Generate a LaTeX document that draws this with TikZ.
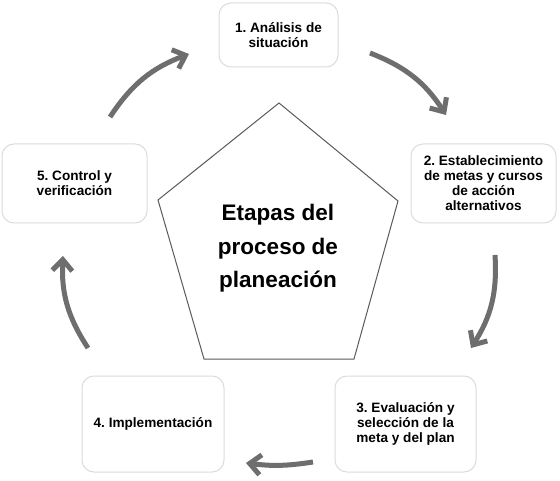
\documentclass[tikz,border=0pt]{standalone}
\usepackage{fontspec}
\setmainfont{Liberation Sans}
\usetikzlibrary{arrows.meta}
\definecolor{boxline}{HTML}{DCDCDC}
\definecolor{arrowgray}{HTML}{6E6E6E}
\definecolor{pentline}{HTML}{5A5A5A}
\frenchspacing
\begin{document}
\begin{tikzpicture}[x=1pt,y=1pt,
  stagebox/.style={draw=boxline, line width=1pt, rounded corners=12pt, fill=white,
    align=center, inner sep=3pt, font=\fontsize{13.6}{15}\selectfont\bfseries},
  cyclearrow/.style={draw=arrowgray, line width=5pt,
    -{Straight Barb[length=11pt,width=20pt]}},
  title/.style={align=center, font=\fontsize{22.5}{33.5}\selectfont\bfseries, inner sep=0pt}
]
\useasboundingbox (0,0) rectangle (560,480);
\fill[white] (0,0) rectangle (560,480);

% pentagon
\coordinate (pt) at (279,377);
\coordinate (pr) at (398,279);
\coordinate (pbr) at (354,121);
\coordinate (pbl) at (204,121);
\coordinate (pl) at (158,280);
\draw[pentline, line width=1pt, line join=miter] (pt) -- (pr) -- (pbr) -- (pbl) -- (pl) -- cycle;
\node[title, anchor=base] (ttl) at (278,192) {Etapas del\\proceso de\\planeación};

% boxes
\node[stagebox, minimum width=119pt, minimum height=64pt] (b1) at (278.5,445) {1. Análisis de\\situación};
\node[stagebox, minimum width=145pt, minimum height=79pt] (b2) at (483.5,296.5) {2. Establecimiento\\de metas y cursos\\de acción\\alternativos};
\node[stagebox, minimum width=141pt, minimum height=96pt] (b3) at (405.5,56) {3. Evaluación y\\selección de la\\meta y del plan};
\node[stagebox, minimum width=142pt, minimum height=96pt] (b4) at (153,56) {4. Implementación};
\node[stagebox, minimum width=145pt, minimum height=79pt] (b5) at (74.5,296.5) {5. Control y\\verificación};

% arrow end points
\coordinate (a12s) at (370,427);
\coordinate (a12e) at (446,365);
\coordinate (a23s) at (495,225);
\coordinate (a23e) at (471,132);
\coordinate (a34s) at (313,18);
\coordinate (a34e) at (246,17);
\coordinate (a45s) at (88,132);
\coordinate (a45e) at (63,224);
\coordinate (a51s) at (110,363);
\coordinate (a51e) at (189,426);

\draw[cyclearrow] (a12s) to[bend left=18] (a12e);
\draw[cyclearrow] (a23s) to[bend left=18] (a23e);
\draw[cyclearrow] (a34s) to[bend left=8] (a34e);
\draw[cyclearrow] (a45s) to[bend left=18] (a45e);
\draw[cyclearrow] (a51s) to[bend left=18] (a51e);
\end{tikzpicture}
\end{document}
